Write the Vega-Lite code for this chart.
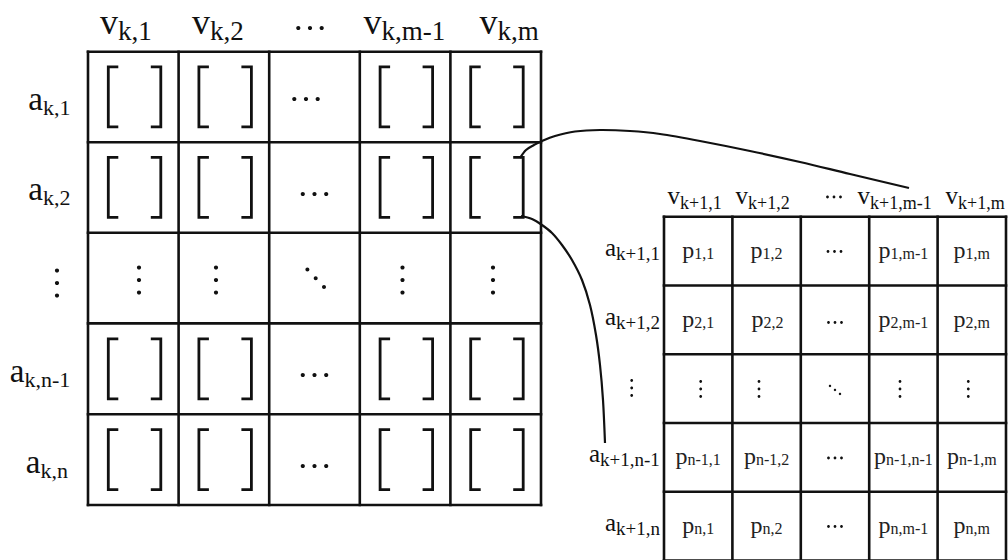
{
  "$schema": "https://vega.github.io/schema/vega-lite/v6.json",
  "width": 1008,
  "height": 560,
  "padding": 0,
  "autosize": "none",
  "background": "white",
  "config": {"view": {"stroke": null}, "text": {"font": "Liberation Serif, Times New Roman, DejaVu Serif, serif"}},
  "datasets": {
    "lines": [
      {"x": 88, "y": 51.7, "x2": 88, "y2": 505},
      {"x": 178.6, "y": 51.7, "x2": 178.6, "y2": 505},
      {"x": 269.2, "y": 51.7, "x2": 269.2, "y2": 505},
      {"x": 359.8, "y": 51.7, "x2": 359.8, "y2": 505},
      {"x": 450.4, "y": 51.7, "x2": 450.4, "y2": 505},
      {"x": 541, "y": 51.7, "x2": 541, "y2": 505},
      {"x": 88, "y": 51.7, "x2": 541, "y2": 51.7},
      {"x": 88, "y": 142.2, "x2": 541, "y2": 142.2},
      {"x": 88, "y": 232.7, "x2": 541, "y2": 232.7},
      {"x": 88, "y": 323.4, "x2": 541, "y2": 323.4},
      {"x": 88, "y": 414.2, "x2": 541, "y2": 414.2},
      {"x": 88, "y": 505, "x2": 541, "y2": 505},
      {"x": 664, "y": 216.7, "x2": 664, "y2": 560.5},
      {"x": 732.4, "y": 216.7, "x2": 732.4, "y2": 560.5},
      {"x": 800.8, "y": 216.7, "x2": 800.8, "y2": 560.5},
      {"x": 869.2, "y": 216.7, "x2": 869.2, "y2": 560.5},
      {"x": 937.6, "y": 216.7, "x2": 937.6, "y2": 560.5},
      {"x": 1006, "y": 216.7, "x2": 1006, "y2": 560.5},
      {"x": 664, "y": 216.7, "x2": 1006, "y2": 216.7},
      {"x": 664, "y": 285.45, "x2": 1006, "y2": 285.45},
      {"x": 664, "y": 354.2, "x2": 1006, "y2": 354.2},
      {"x": 664, "y": 422.95, "x2": 1006, "y2": 422.95},
      {"x": 664, "y": 491.7, "x2": 1006, "y2": 491.7},
      {"x": 664, "y": 560.45, "x2": 1006, "y2": 560.45}
    ],
    "brackets": [
      {"x": 133.3, "y": 96.95}, {"x": 223.9, "y": 96.95}, {"x": 405.1, "y": 96.95}, {"x": 495.7, "y": 96.95},
      {"x": 133.3, "y": 187.45}, {"x": 223.9, "y": 187.45}, {"x": 405.1, "y": 187.45}, {"x": 495.7, "y": 187.45},
      {"x": 133.3, "y": 368.8}, {"x": 223.9, "y": 368.8}, {"x": 405.1, "y": 368.8}, {"x": 495.7, "y": 368.8},
      {"x": 133.3, "y": 459.6}, {"x": 223.9, "y": 459.6}, {"x": 405.1, "y": 459.6}, {"x": 495.7, "y": 459.6}
    ],
    "dots": [
      {"kind": "hdotsL", "x": 306, "y": 99},
      {"kind": "hdotsL", "x": 314.5, "y": 194},
      {"kind": "hdotsL", "x": 314.5, "y": 375},
      {"kind": "hdotsL", "x": 314.5, "y": 466},
      {"kind": "hdotsL", "x": 310, "y": 28},
      {"kind": "vdotsL", "x": 139, "y": 280},
      {"kind": "vdotsL", "x": 216, "y": 280},
      {"kind": "vdotsL", "x": 402.5, "y": 280},
      {"kind": "vdotsL", "x": 493, "y": 280},
      {"kind": "vdotsL", "x": 57, "y": 283},
      {"kind": "ddotsL", "x": 315.7, "y": 278.3},
      {"kind": "hdotsR", "x": 834.5, "y": 251.5},
      {"kind": "hdotsR", "x": 835, "y": 322.5},
      {"kind": "hdotsR", "x": 835, "y": 458},
      {"kind": "hdotsR", "x": 835, "y": 526.5},
      {"kind": "hdotsR", "x": 834, "y": 197},
      {"kind": "vdotsR", "x": 700.7, "y": 389},
      {"kind": "vdotsR", "x": 759, "y": 389},
      {"kind": "vdotsR", "x": 900, "y": 389},
      {"kind": "vdotsR", "x": 968.3, "y": 389},
      {"kind": "vdotsR", "x": 631.7, "y": 388},
      {"kind": "ddotsR", "x": 835, "y": 390}
    ],
    "curves": [
      {"curve": "upper", "i": 0, "x": 520, "y": 158},
      {"curve": "upper", "i": 1, "x": 526, "y": 150},
      {"curve": "upper", "i": 2, "x": 534, "y": 145},
      {"curve": "upper", "i": 3, "x": 541, "y": 141.5},
      {"curve": "upper", "i": 4, "x": 555, "y": 136},
      {"curve": "upper", "i": 5, "x": 575, "y": 131.5},
      {"curve": "upper", "i": 6, "x": 600, "y": 130},
      {"curve": "upper", "i": 7, "x": 630, "y": 131},
      {"curve": "upper", "i": 8, "x": 660, "y": 134},
      {"curve": "upper", "i": 9, "x": 700, "y": 141},
      {"curve": "upper", "i": 10, "x": 750, "y": 151},
      {"curve": "upper", "i": 11, "x": 800, "y": 162},
      {"curve": "upper", "i": 12, "x": 850, "y": 174},
      {"curve": "upper", "i": 13, "x": 909, "y": 188},
      {"curve": "lower", "i": 0, "x": 521, "y": 216},
      {"curve": "lower", "i": 1, "x": 532, "y": 219},
      {"curve": "lower", "i": 2, "x": 542, "y": 225},
      {"curve": "lower", "i": 3, "x": 552, "y": 233},
      {"curve": "lower", "i": 4, "x": 562, "y": 245},
      {"curve": "lower", "i": 5, "x": 572, "y": 260},
      {"curve": "lower", "i": 6, "x": 582, "y": 280},
      {"curve": "lower", "i": 7, "x": 590, "y": 305},
      {"curve": "lower", "i": 8, "x": 596, "y": 335},
      {"curve": "lower", "i": 9, "x": 600, "y": 365},
      {"curve": "lower", "i": 10, "x": 603, "y": 400},
      {"curve": "lower", "i": 11, "x": 605, "y": 443}
    ],
    "labels": [
      {"g": "LH", "base": "v", "sub": "k,1", "x": 118, "y": 34},
      {"g": "LH", "base": "v", "sub": "k,2", "x": 210, "y": 34},
      {"g": "LH", "base": "v", "sub": "k,m-1", "x": 381.5, "y": 34},
      {"g": "LH", "base": "v", "sub": "k,m", "x": 497.6, "y": 34},
      {"g": "LR", "base": "a", "sub": "k,1", "x": 43, "y": 109.95},
      {"g": "LR", "base": "a", "sub": "k,2", "x": 43, "y": 200.45},
      {"g": "LR", "base": "a", "sub": "k,n-1", "x": 24.5, "y": 381.8},
      {"g": "LR", "base": "a", "sub": "k,n", "x": 40.5, "y": 472.6},
      {"g": "RH", "base": "v", "sub": "k+1,1", "x": 680, "y": 204},
      {"g": "RH", "base": "v", "sub": "k+1,2", "x": 748, "y": 204},
      {"g": "RH", "base": "v", "sub": "k+1,m-1", "x": 870, "y": 204},
      {"g": "RH", "base": "v", "sub": "k+1,m", "x": 958, "y": 204},
      {"g": "RR", "base": "a", "sub": "k+1,1", "x": 616, "y": 256.1},
      {"g": "RR", "base": "a", "sub": "k+1,2", "x": 616, "y": 324.85},
      {"g": "RR", "base": "a", "sub": "k+1,n-1", "x": 600, "y": 462.35},
      {"g": "RR", "base": "a", "sub": "k+1,n", "x": 616, "y": 531.1},
      {"g": "RC", "base": "p", "sub": "1,1", "x": 694.2, "y": 258.1},
      {"g": "RC", "base": "p", "sub": "1,2", "x": 762.6, "y": 258.1},
      {"g": "RC", "base": "p", "sub": "1,m-1", "x": 890.5, "y": 258.1},
      {"g": "RC", "base": "p", "sub": "1,m", "x": 965.6, "y": 258.1},
      {"g": "RC", "base": "p", "sub": "2,1", "x": 694.2, "y": 326.8},
      {"g": "RC", "base": "p", "sub": "2,2", "x": 763.5, "y": 326.8},
      {"g": "RC", "base": "p", "sub": "2,m-1", "x": 890.5, "y": 326.8},
      {"g": "RC", "base": "p", "sub": "2,m", "x": 965.6, "y": 326.8},
      {"g": "RC", "base": "p", "sub": "n-1,1", "x": 687.5, "y": 464.3},
      {"g": "RC", "base": "p", "sub": "n-1,2", "x": 755.9, "y": 464.3},
      {"g": "RC", "base": "p", "sub": "n-1,n-1", "x": 886.1, "y": 464.3},
      {"g": "RC", "base": "p", "sub": "n-1,m", "x": 958.9, "y": 464.3},
      {"g": "RC", "base": "p", "sub": "n,1", "x": 694.2, "y": 533.1},
      {"g": "RC", "base": "p", "sub": "n,2", "x": 762.6, "y": 533.1},
      {"g": "RC", "base": "p", "sub": "n,m-1", "x": 890.5, "y": 533.1},
      {"g": "RC", "base": "p", "sub": "n,m", "x": 965.6, "y": 533.1}
    ]
  },
  "encoding": {
    "x": {"field": "x", "type": "quantitative", "scale": {"domain": [0, 1008], "nice": false, "zero": false}, "axis": null},
    "y": {"field": "y", "type": "quantitative", "scale": {"domain": [0, 560], "nice": false, "zero": false, "reverse": true}, "axis": null}
  },
  "layer": [
    {
      "data": {"name": "lines"},
      "mark": {"type": "rule", "color": "#111111", "strokeWidth": 2.6, "strokeCap": "square"},
      "encoding": {"x2": {"field": "x2"}, "y2": {"field": "y2"}}
    },
    {
      "data": {"name": "brackets"},
      "mark": {"type": "point", "filled": false, "opacity": 1, "stroke": "#111111", "strokeWidth": 2.8, "size": 4,
        "shape": "M-15,-30L-25,-30L-25,30L-15,30M17.5,-30L27.5,-30L27.5,30L17.5,30"}
    },
    {
      "data": {"name": "dots"},
      "mark": {"type": "point", "filled": true, "opacity": 1, "color": "#111111", "size": 4},
      "encoding": {
        "shape": {"field": "kind", "type": "nominal", "legend": null,
          "scale": {
            "domain": ["hdotsL", "vdotsL", "ddotsL", "hdotsR", "vdotsR", "ddotsR"],
            "range": [
              "M-13.8,0A2.1,2.1,0,1,0,-9.6,0A2.1,2.1,0,1,0,-13.8,0ZM-2.1,0A2.1,2.1,0,1,0,2.1,0A2.1,2.1,0,1,0,-2.1,0ZM9.6,0A2.1,2.1,0,1,0,13.8,0A2.1,2.1,0,1,0,9.6,0Z",
              "M-2.1,-12.5A2.1,2.1,0,1,0,2.1,-12.5A2.1,2.1,0,1,0,-2.1,-12.5ZM-2.1,0A2.1,2.1,0,1,0,2.1,0A2.1,2.1,0,1,0,-2.1,0ZM-2.1,12.5A2.1,2.1,0,1,0,2.1,12.5A2.1,2.1,0,1,0,-2.1,12.5Z",
              "M-10.3,-8.7A2,2,0,1,0,-6.3,-8.7A2,2,0,1,0,-10.3,-8.7ZM-2,0A2,2,0,1,0,2,0A2,2,0,1,0,-2,0ZM6.3,8.7A2,2,0,1,0,10.3,8.7A2,2,0,1,0,6.3,8.7Z",
              "M-7.9,0A1.4,1.4,0,1,0,-5.1,0A1.4,1.4,0,1,0,-7.9,0ZM-1.4,0A1.4,1.4,0,1,0,1.4,0A1.4,1.4,0,1,0,-1.4,0ZM5.1,0A1.4,1.4,0,1,0,7.9,0A1.4,1.4,0,1,0,5.1,0Z",
              "M-1.4,-7.5A1.4,1.4,0,1,0,1.4,-7.5A1.4,1.4,0,1,0,-1.4,-7.5ZM-1.4,0A1.4,1.4,0,1,0,1.4,0A1.4,1.4,0,1,0,-1.4,0ZM-1.4,7.5A1.4,1.4,0,1,0,1.4,7.5A1.4,1.4,0,1,0,-1.4,7.5Z",
              "M-6.2,-4A1.2,1.2,0,1,0,-3.8,-4A1.2,1.2,0,1,0,-6.2,-4ZM-1.2,0A1.2,1.2,0,1,0,1.2,0A1.2,1.2,0,1,0,-1.2,0ZM3.8,4A1.2,1.2,0,1,0,6.2,4A1.2,1.2,0,1,0,3.8,4Z"
            ]
          }
        }
      }
    },
    {
      "data": {"name": "curves"},
      "mark": {"type": "line", "color": "#111111", "strokeWidth": 2.2, "interpolate": "cardinal"},
      "encoding": {"detail": {"field": "curve"}, "order": {"field": "i", "type": "quantitative"}}
    },
    {
      "data": {"name": "labels"},
      "transform": [{"filter": "datum.g === 'LH'"}],
      "mark": {"type": "text", "align": "right", "baseline": "alphabetic", "fontSize": 36, "color": "#111111"},
      "encoding": {"text": {"field": "base"}}
    },
    {
      "data": {"name": "labels"},
      "transform": [{"filter": "datum.g === 'LH'"}],
      "mark": {"type": "text", "align": "left", "baseline": "alphabetic", "fontSize": 27, "dy": 6, "color": "#111111"},
      "encoding": {"text": {"field": "sub"}}
    },
    {
      "data": {"name": "labels"},
      "transform": [{"filter": "datum.g === 'LR'"}],
      "mark": {"type": "text", "align": "right", "baseline": "alphabetic", "fontSize": 33, "color": "#111111"},
      "encoding": {"text": {"field": "base"}}
    },
    {
      "data": {"name": "labels"},
      "transform": [{"filter": "datum.g === 'LR'"}],
      "mark": {"type": "text", "align": "left", "baseline": "alphabetic", "fontSize": 22, "dy": 5, "color": "#111111"},
      "encoding": {"text": {"field": "sub"}}
    },
    {
      "data": {"name": "labels"},
      "transform": [{"filter": "datum.g === 'RH'"}],
      "mark": {"type": "text", "align": "right", "baseline": "alphabetic", "fontSize": 25, "color": "#111111"},
      "encoding": {"text": {"field": "base"}}
    },
    {
      "data": {"name": "labels"},
      "transform": [{"filter": "datum.g === 'RH'"}],
      "mark": {"type": "text", "align": "left", "baseline": "alphabetic", "fontSize": 18, "dy": 5, "color": "#111111"},
      "encoding": {"text": {"field": "sub"}}
    },
    {
      "data": {"name": "labels"},
      "transform": [{"filter": "datum.g === 'RR'"}],
      "mark": {"type": "text", "align": "right", "baseline": "alphabetic", "fontSize": 25, "color": "#111111"},
      "encoding": {"text": {"field": "base"}}
    },
    {
      "data": {"name": "labels"},
      "transform": [{"filter": "datum.g === 'RR'"}],
      "mark": {"type": "text", "align": "left", "baseline": "alphabetic", "fontSize": 19, "dy": 4, "color": "#111111"},
      "encoding": {"text": {"field": "sub"}}
    },
    {
      "data": {"name": "labels"},
      "transform": [{"filter": "datum.g === 'RC'"}],
      "mark": {"type": "text", "align": "right", "baseline": "alphabetic", "fontSize": 24, "color": "#222222"},
      "encoding": {"text": {"field": "base"}}
    },
    {
      "data": {"name": "labels"},
      "transform": [{"filter": "datum.g === 'RC'"}],
      "mark": {"type": "text", "align": "left", "baseline": "alphabetic", "fontSize": 16, "dy": 1, "color": "#222222"},
      "encoding": {"text": {"field": "sub"}}
    }
  ]
}
